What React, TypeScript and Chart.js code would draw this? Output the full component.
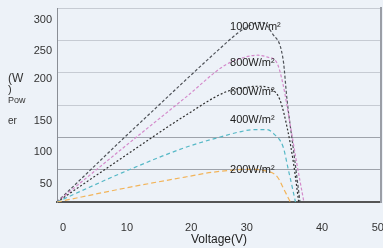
import React, { useEffect, useRef } from "react";
import { Chart, registerables } from "chart.js";

Chart.register(...registerables);

// ---- data ----
const V_1000 = [0, 5, 10, 15, 20, 25, 28, 30, 31.5, 33.2, 34.9, 35.5, 36.5, 37.5];
const P_1000 = [0, 48, 96, 143, 190, 236, 262, 274, 278, 261, 220, 158, 80, 0];

const V_800 = [0, 10, 20, 26, 29, 31, 32.5, 33.9, 34.9, 36, 37, 38.1];
const P_800 = [0, 82, 163, 212, 224, 227, 224, 216, 181, 119, 60, 0];

const V_600 = [0, 10, 20, 26, 29, 31, 33, 34.4, 35.6, 36.5, 37.3];
const P_600 = [0, 68, 135, 170, 177, 179, 175, 158, 111, 60, 0];

const V_400 = [0, 10, 20, 25, 28, 30.5, 32.4, 33.5, 34.9, 35.7, 36.3, 36.8];
const P_400 = [0, 45, 85, 100, 108, 112, 112, 105, 85, 50, 23, 0];

const V_200 = [0, 11.3, 20, 24, 28, 30, 32, 34, 34.9, 36];
const P_200 = [0, 23, 39, 46, 50, 50.5, 48.5, 39, 22, 0];

const SERIES_NAMES = ["1000W/m²", "800W/m²", "600W/m²", "400W/m²", "200W/m²"];
const LABEL_V = [26.7, 26.7, 26.7, 26.7, 26.7];
const LABEL_P = [270, 215, 170, 127, 49.5];

const X_TICK_LABELS = ["0", "10", "20", "30", "40", "50"];
const X_TICK_AT = [0.93, 10.8, 20.7, 29.3, 40.9, 49.5];
const Y_TICK_LABELS = ["300", "250", "200", "150", "100", "50"];
const Y_TICK_AT = [281.4, 233.5, 190.2, 125.3, 77.3, 27.8];
const Y_TITLE_PARTS = ["(W", ")", "Pow", "er"];
const Y_TITLE_AT = [190.2, 173.2, 157.7, 125.3];
const Y_TITLE_SIZES = [12, 11, 9, 10];

const FONT = "'Liberation Sans', Arial, sans-serif";

function pts(v: number[], p: number[]) {
  return v.map((x, i) => ({ x, y: p[i] }));
}

const textPlugin = {
  id: "textPlugin",
  afterDatasetsDraw(chart: any) {
    const ctx = chart.ctx;
    const xs = chart.scales.x;
    const ys = chart.scales.y;
    ctx.save();
    ctx.fillStyle = "#222";
    ctx.textAlign = "left";
    ctx.textBaseline = "middle";
    ctx.font = `11px ${FONT}`;
    SERIES_NAMES.forEach((t, i) => {
      ctx.fillText(t, xs.getPixelForValue(LABEL_V[i]), ys.getPixelForValue(LABEL_P[i]));
    });
    ctx.fillStyle = "#333";
    Y_TITLE_PARTS.forEach((t, i) => {
      ctx.font = `${Y_TITLE_SIZES[i]}px ${FONT}`;
      ctx.fillText(t, chart.chartArea.left - 49, ys.getPixelForValue(Y_TITLE_AT[i]));
    });
    ctx.restore();
  },
};

export default function App() {
  const ref = useRef<HTMLCanvasElement>(null);
  useEffect(() => {
    if (!ref.current) return;
    Chart.defaults.font.family = FONT;
    const mk = (v: number[], p: number[], color: string, dash: number[], w = 1.2) => ({
      data: pts(v, p),
      borderColor: color,
      borderWidth: w,
      borderDash: dash,
      pointRadius: 0,
      fill: false,
      cubicInterpolationMode: "monotone" as const,
    });
    const chart = new Chart(ref.current, {
      type: "line",
      data: {
        datasets: [
          mk(V_200, P_200, "#f2b45a", [5, 3]),
          mk(V_400, P_400, "#55b8c6", [4, 3]),
          mk(V_600, P_600, "#2e2e2e", [2, 2]),
          mk(V_800, P_800, "#d48acb", [3, 2]),
          mk(V_1000, P_1000, "#4e5258", [3, 2]),
        ],
      },
      options: {
        animation: false,
        responsive: false,
        devicePixelRatio: 1,
        parsing: true,
        layout: { padding: { top: 8, right: 2, left: 0, bottom: 0 } },
        plugins: { legend: { display: false }, tooltip: { enabled: false } },
        scales: {
          x: {
            type: "linear",
            min: 0,
            max: 50,
            position: "bottom",
            afterBuildTicks: (s: any) => {
              s.ticks = X_TICK_AT.map((v) => ({ value: v }));
            },
            afterFit: (s: any) => {
              s.height = 46;
              s.paddingLeft = 0;
              s.paddingRight = 0;
            },
            grid: { display: false, drawTicks: false },
            border: { display: true, color: "#555", width: 2 },
            ticks: {
              callback: (_v: any, i: number) => X_TICK_LABELS[i],
              padding: 19,
              maxRotation: 0,
              autoSkip: false,
              font: { size: 11 },
              color: "#333",
            },
            title: {
              display: true,
              text: "Voltage(V)",
              padding: { top: 0, bottom: 1 },
              font: { size: 12 },
              color: "#222",
            },
          },
          yl: {
            type: "linear",
            min: 0,
            max: 300,
            position: "left",
            weight: 1,
            afterBuildTicks: (s: any) => {
              s.ticks = Y_TICK_AT.map((v) => ({ value: v }));
            },
            afterFit: (s: any) => {
              s.width = 57;
              s.paddingTop = 0;
              s.paddingBottom = 0;
            },
            grid: { display: false, drawTicks: false },
            border: { display: false },
            ticks: {
              callback: (_v: any, i: number) => Y_TICK_LABELS[i],
              padding: 5,
              autoSkip: false,
              font: { size: 11 },
              color: "#333",
            },
          },
          y: {
            type: "linear",
            min: 0,
            max: 300,
            position: "left",
            weight: 0,
            afterFit: (s: any) => {
              s.width = 0;
              s.paddingTop = 0;
              s.paddingBottom = 0;
            },
            ticks: { display: false, stepSize: 50 },
            grid: {
              drawTicks: false,
              color: (c: any) => (c.tick && c.tick.value <= 100 ? "#9ea3ab" : "#c6cbd3"),
              lineWidth: 1,
            },
            border: { display: true, color: "#8a8e95", width: 1 },
          },
          yr: {
            type: "linear",
            min: 0,
            max: 300,
            position: "right",
            afterFit: (s: any) => {
              s.width = 0;
              s.paddingTop = 0;
              s.paddingBottom = 0;
            },
            ticks: { display: false },
            grid: { display: false, drawTicks: false },
            border: { display: true, color: "#9a9ea6", width: 2 },
          },
        },
      },
      plugins: [textPlugin],
    });
    return () => chart.destroy();
  }, []);
  return (
    <div
      style={{
        position: "fixed",
        left: 0,
        top: 0,
        width: 383,
        height: 248,
        background: "#edf2f8",
      }}
    >
      <canvas ref={ref} width={383} height={248} style={{ display: "block" }} />
    </div>
  );
}
